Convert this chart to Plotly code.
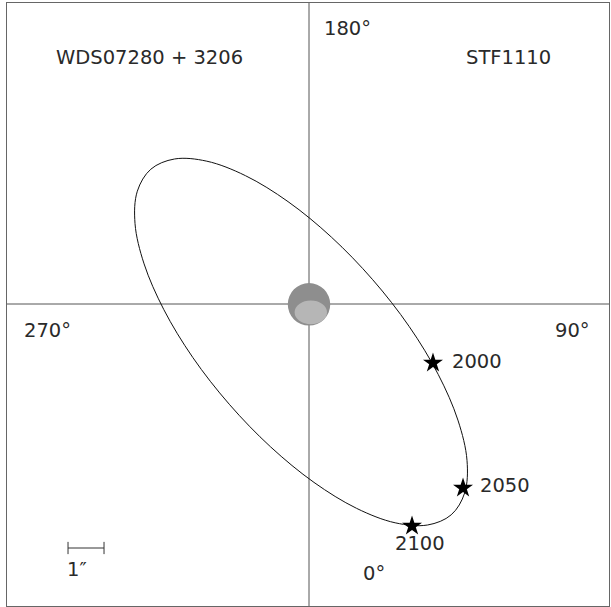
import plotly.graph_objects as go

# Orbit points (arcsec offsets from primary; y up = toward 180°)
orbit_x = [3.950, 3.292, 2.394, 1.319, 0.139, -1.067, -2.214, -3.228, -4.033, -4.581,
           -4.833, -4.769, -4.394, -3.736, -2.839, -1.764, -0.583, 0.622, 1.769, 2.783,
           3.589, 4.136, 4.389, 4.325, 3.950]
orbit_y = [-5.856, -6.139, -6.078, -5.675, -4.956, -3.969, -2.786, -1.486, -0.156, 1.114,
           2.233, 3.133, 3.744, 4.028, 3.967, 3.564, 2.844, 1.858, 0.675, -0.625,
           -1.956, -3.225, -4.344, -5.244, -5.856]

# Predicted positions
epochs = ["2000", "2050", "2100"]
epoch_x = [3.444, 4.278, 2.861]
epoch_y = [-1.639, -5.111, -6.167]

# Scale bar (arcsec)
scale_len = 1.0
scale_x0 = -6.694
scale_y = -6.778

x_range = [-8.389, 8.333]
y_range = [-8.389, 8.361]

title_left = "WDS07280 + 3206"
title_right = "STF1110"
angle_labels = ["180°", "270°", "90°", "0°"]
scale_label = "1″"

FONT = "'DejaVu Sans', sans-serif"
TXT = "#2a2a2a"

fig = go.Figure()

# orbit
fig.add_trace(go.Scatter(x=orbit_x, y=orbit_y, mode="lines",
                         line=dict(color="#111111", width=1, shape="spline", smoothing=1.0),
                         hoverinfo="skip", showlegend=False))

# primary star disc
fig.add_shape(type="circle", xref="x", yref="y", x0=-0.59, x1=0.59, y0=-0.6, y1=0.58,
              fillcolor="#8e8e8e", line=dict(width=0), layer="above")
fig.add_shape(type="circle", xref="x", yref="y", x0=-0.40, x1=0.5, y0=-0.56, y1=0.10,
              fillcolor="#d0d0d0", opacity=0.6, line=dict(width=0), layer="above")

# epoch markers
fig.add_trace(go.Scatter(x=epoch_x, y=epoch_y, mode="markers",
                         marker=dict(symbol="star", size=15, color="black",
                                     line=dict(width=0)),
                         hoverinfo="skip", showlegend=False))

# scale bar
sx = [scale_x0, scale_x0 + scale_len, None, scale_x0, scale_x0, None,
      scale_x0 + scale_len, scale_x0 + scale_len]
sy = [scale_y, scale_y, None, scale_y - 0.17, scale_y + 0.17, None,
      scale_y - 0.17, scale_y + 0.17]
fig.add_trace(go.Scatter(x=sx, y=sy, mode="lines", line=dict(color="#333333", width=1),
                         hoverinfo="skip", showlegend=False))

# crosshair
fig.add_shape(type="line", xref="x", yref="y", x0=x_range[0], x1=x_range[1], y0=0, y1=0,
              line=dict(color="#555555", width=1), layer="below")
fig.add_shape(type="line", xref="x", yref="y", x0=0, x1=0, y0=y_range[0], y1=y_range[1],
              line=dict(color="#555555", width=1), layer="below")

font = dict(family=FONT, size=19.5, color=TXT)

# epoch labels
fig.add_annotation(x=epoch_x[0], y=epoch_y[0], text=epochs[0], showarrow=False,
                   xanchor="left", yanchor="middle", xshift=17, yshift=2, font=font)
fig.add_annotation(x=epoch_x[1], y=epoch_y[1], text=epochs[1], showarrow=False,
                   xanchor="left", yanchor="middle", xshift=15, yshift=2, font=font)
fig.add_annotation(x=epoch_x[2], y=epoch_y[2], text=epochs[2], showarrow=False,
                   xanchor="center", yanchor="top", xshift=8, yshift=-4, font=font)

# corner and angle labels
fig.add_annotation(xref="paper", yref="paper", x=0.2375, y=0.909, text=title_left,
                   showarrow=False, xanchor="center", yanchor="middle", font=font)
fig.add_annotation(xref="paper", yref="paper", x=0.907, y=0.909, text=title_right,
                   showarrow=False, xanchor="right", yanchor="middle", font=font)
fig.add_annotation(xref="paper", yref="paper", x=0.523, y=0.9585, text=angle_labels[0],
                   showarrow=False, xanchor="left", yanchor="middle", font=font)
fig.add_annotation(xref="paper", yref="paper", x=0.0249, y=0.4577, text=angle_labels[1],
                   showarrow=False, xanchor="left", yanchor="middle", font=font)
fig.add_annotation(xref="paper", yref="paper", x=0.9718, y=0.4577, text=angle_labels[2],
                   showarrow=False, xanchor="right", yanchor="middle", font=font)
fig.add_annotation(xref="paper", yref="paper", x=0.588, y=0.0547, text=angle_labels[3],
                   showarrow=False, xanchor="left", yanchor="middle", font=font)
fig.add_annotation(x=scale_x0, y=scale_y, text=scale_label, showarrow=False,
                   xanchor="left", yanchor="top", yshift=-8, xshift=-3, font=font)

fig.update_xaxes(range=x_range, showgrid=False, zeroline=False, showticklabels=False,
                 ticks="", showline=True, mirror=True, linecolor="#666666", linewidth=1)
fig.update_yaxes(range=y_range, showgrid=False, zeroline=False, showticklabels=False,
                 ticks="", showline=True, mirror=True, linecolor="#666666", linewidth=1)

fig.update_layout(width=611, height=607, margin=dict(l=7, r=2, t=3, b=1),
                  paper_bgcolor="white", plot_bgcolor="white", showlegend=False)

fig.write_html("out.html", config={"displayModeBar": False},
               post_script="document.body.style.margin='0';document.body.style.overflow='hidden';")
